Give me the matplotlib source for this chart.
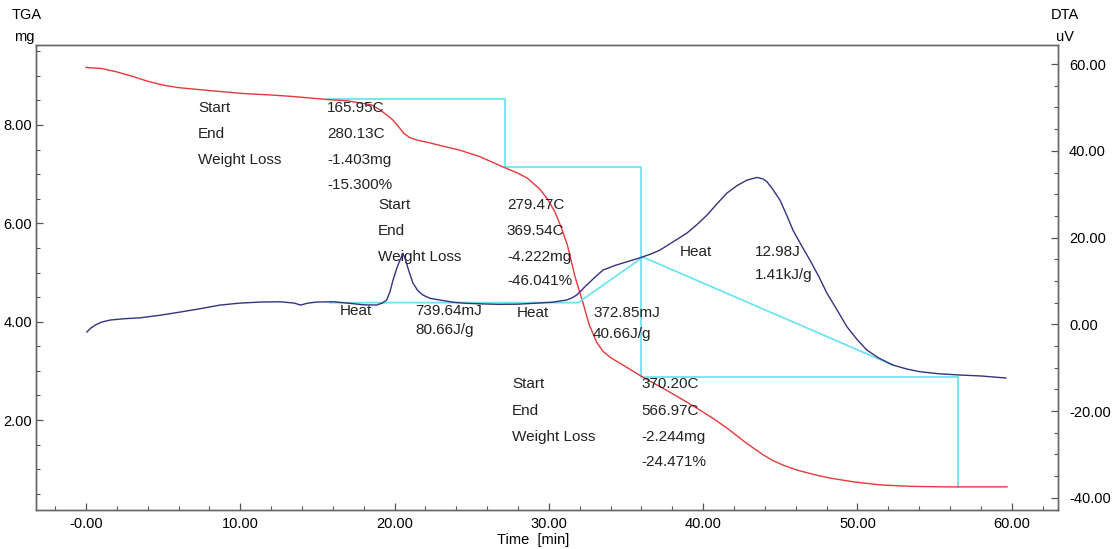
import matplotlib
matplotlib.use('Agg')
import matplotlib.pyplot as plt
from matplotlib.ticker import MultipleLocator

plt.rcParams['font.family'] = ['Liberation Sans', 'DejaVu Sans']

# TGA curve (time min, weight mg)
tga_time = [0.0, 1.0, 2.0, 3.0, 4.0, 5.0, 6.0, 8.0, 10.2, 12.0, 13.4, 15.6, 17.0,
            18.5, 19.05, 19.5, 19.9, 20.3, 20.6, 21.0, 21.5, 22.1, 23.0, 24.2,
            25.5, 27.0, 28.0, 28.6, 29.4, 29.9, 30.4, 30.8, 31.2, 31.7, 32.2,
            32.6, 33.1, 33.5, 34.0, 35.0, 36.1, 37.6, 38.7, 39.8, 40.8, 41.7,
            42.8, 43.9, 44.5, 45.2, 46.1, 47.2, 48.2, 49.8, 51.5, 53.5, 55.8, 59.7]
tga_mg = [9.17, 9.15, 9.08, 8.99, 8.89, 8.81, 8.76, 8.70, 8.64, 8.61, 8.58, 8.52, 8.49,
          8.41, 8.31, 8.20, 8.10, 7.95, 7.83, 7.74, 7.69, 7.65, 7.58, 7.49,
          7.36, 7.15, 7.02, 6.92, 6.70, 6.50, 6.23, 5.92, 5.56, 4.91, 4.40,
          3.95, 3.58, 3.40, 3.27, 3.08, 2.87, 2.61, 2.41, 2.20, 2.00, 1.80,
          1.53, 1.29, 1.18, 1.08, 0.98, 0.89, 0.82, 0.74, 0.68, 0.65, 0.64, 0.64]

# DTA curve (time min, signal uV)
dta_time = [0.06, 0.3, 0.6, 1.0, 1.56, 2.5, 3.5, 4.8, 6.1, 7.4, 8.7, 10.0, 11.3,
            12.6, 13.5, 13.9, 14.4, 14.95, 16.0, 17.1, 18.0, 18.84, 19.2, 19.49,
            19.7, 19.9, 20.15, 20.35, 20.54, 20.7, 20.9, 21.19, 21.5, 21.84, 22.3,
            22.94, 23.8, 24.67, 25.8, 26.83, 28.0, 28.97, 30.2, 31.15, 31.5, 31.8,
            32.1, 32.45, 33.0, 33.51, 34.3, 35.06, 35.6, 36.1, 36.6, 37.2, 38.0,
            38.95, 39.6, 40.25, 40.9, 41.54, 42.2, 42.84, 43.49, 43.9, 44.14, 44.5,
            44.98, 45.4, 45.82, 46.4, 46.92, 47.5, 48.02, 48.7, 49.32, 50.0, 50.61,
            51.4, 52.3, 53.2, 54.05, 55.3, 56.64, 58.0, 59.62]
dta_uv = [-1.77, -0.9, -0.16, 0.5, 0.99, 1.3, 1.5, 2.1, 2.83, 3.6, 4.45, 4.9, 5.14,
          5.2, 4.9, 4.45, 4.9, 5.14, 5.21, 4.84, 4.5, 4.45, 4.9, 5.6,
          7.5, 10.2, 13.0, 14.8, 16.36, 15.0, 12.6, 9.52, 7.8, 6.75, 6.0,
          5.6, 5.1, 4.84, 4.7, 4.61, 4.65, 4.84, 5.1, 5.6, 6.1, 6.75,
          7.8, 9.06, 10.9, 12.51, 13.6, 14.42, 15.0, 15.58, 16.2, 17.12, 18.9,
          21.04, 23.0, 25.18, 27.8, 30.25, 32.0, 33.25, 33.87, 33.5, 32.86, 31.2,
          28.64, 25.3, 21.73, 18.0, 14.82, 11.0, 7.21, 3.2, -0.55, -3.6, -5.92,
          -7.8, -9.38, -10.3, -10.92, -11.4, -11.68, -11.9, -12.37]

# weight-loss step lines
step_time = [15.62, 27.15, 27.15, 36.0, 36.0, 56.5, 56.5]
step_mg = [8.52, 8.52, 7.14, 7.14, 2.88, 2.88, 0.64]

# DTA peak baselines
base_time = [15.8, 31.9, 36.1, 52.3]
base_uv = [5.0, 5.0, 15.5, -9.4]

x_ticks = [0, 10, 20, 30, 40, 50, 60]
x_labels = ['-0.00', '10.00', '20.00', '30.00', '40.00', '50.00', '60.00']
tga_ticks = [2, 4, 6, 8]
dta_ticks = [-40, -20, 0, 20, 40, 60]

# annotation blocks: (time, mg, text)
notes = [
    (7.26, 8.346, 'Start'), (7.26, 7.817, 'End'), (7.26, 7.288, 'Weight Loss'),
    (15.62, 8.346, '165.95C'), (15.62, 7.817, '280.13C'), (15.62, 7.288, '-1.403mg'),
    (15.62, 6.78, '-15.300%'),
    (18.92, 6.373, 'Start'), (18.92, 5.844, 'End'), (18.92, 5.315, 'Weight Loss'),
    (27.28, 6.373, '279.47C'), (27.28, 5.844, '369.54C'), (27.28, 5.315, '-4.222mg'),
    (27.28, 4.827, '-46.041%'),
    (27.61, 2.73, 'Start'), (27.61, 2.19, 'End'), (27.61, 1.655, 'Weight Loss'),
    (35.97, 2.73, '370.20C'), (35.97, 2.19, '566.97C'), (35.97, 1.655, '-2.244mg'),
    (35.97, 1.146, '-24.471%'),
    (16.46, 4.217, 'Heat'), (21.32, 4.217, '739.64mJ'), (21.32, 3.83, '80.66J/g'),
    (27.93, 4.176, 'Heat'), (32.86, 4.176, '372.85mJ'), (32.86, 3.75, '40.66J/g'),
    (38.50, 5.417, 'Heat'), (43.36, 5.417, '12.98J'), (43.36, 4.95, '1.41kJ/g'),
]

fig = plt.figure(figsize=(11.18, 5.49), dpi=100)
ax1 = fig.add_axes([36 / 1118, 1 - 510 / 549, 1022 / 1118, 465 / 549])
ax2 = ax1.twinx()

ax1.plot(tga_time, tga_mg, color='#e8383d', lw=1.0, zorder=3)
ax1.plot(step_time, step_mg, color='#6fe3ef', lw=1.3, zorder=2)
ax2.plot(dta_time, dta_uv, color='#33337f', lw=1.0, zorder=3)
ax2.plot(base_time, base_uv, color='#6fe3ef', lw=1.3, zorder=2)

ax1.set_xlim(-3.24, 63.0)
ax1.set_ylim(0.17, 9.627)
ax2.set_ylim(-42.8, 64.4)

ax1.set_xticks(x_ticks)
ax1.set_xticklabels(x_labels)
ax1.xaxis.set_minor_locator(MultipleLocator(2))
ax1.set_yticks(tga_ticks)
ax1.set_yticklabels(['%.2f' % v for v in tga_ticks])
ax1.yaxis.set_minor_locator(MultipleLocator(0.5))
ax2.set_yticks(dta_ticks)
ax2.set_yticklabels(['%.2f' % v for v in dta_ticks])
ax2.yaxis.set_minor_locator(MultipleLocator(5))

for ax in (ax1, ax2):
    ax.tick_params(which='major', direction='in', length=5, width=0.9, color='#555555',
                   labelsize=10.5, pad=3)
    ax.tick_params(which='minor', direction='in', length=3, width=0.8, color='#555555')
    for s in ax.spines.values():
        s.set_color('#666666')
        s.set_linewidth(1.0)
ax1.tick_params(axis='x', pad=5)
ax2.tick_params(axis='y', pad=8)

for t, m, s in notes:
    ax1.text(t, m, s, fontsize=11, ha='left', va='center', color='#222222', zorder=4)

fig.text(12 / 1118, 1 - 15 / 549, 'TGA', fontsize=10.5, ha='left', va='center')
fig.text(35 / 1118, 1 - 37 / 549, 'mg', fontsize=10.5, ha='right', va='center')
fig.text(1065 / 1118, 1 - 15 / 549, 'DTA', fontsize=10.5, ha='center', va='center')
fig.text(1065 / 1118, 1 - 37 / 549, 'uV', fontsize=10.5, ha='center', va='center')
fig.text(533 / 1118, 1 - 540 / 549, 'Time  [min]', fontsize=10.5, ha='center', va='center')

fig.savefig('out.png', dpi=100)
